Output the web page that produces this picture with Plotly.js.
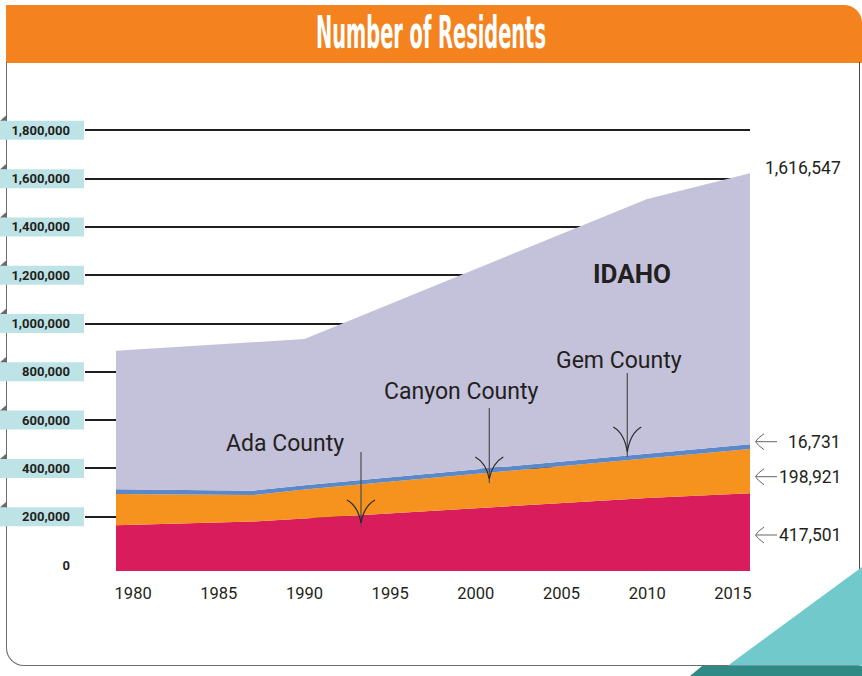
<!DOCTYPE html>
<html>
<head>
<meta charset="utf-8">
<script src="https://cdn.plot.ly/plotly-3.0.1.min.js"></script>
<style>
  html, body { margin: 0; padding: 0; background: #ffffff; }
  #wrap { position: relative; width: 862px; height: 676px; overflow: hidden; }
  #header { position: absolute; left: 6px; top: 5px; width: 856px; height: 58px; background: #f4831f; border-top-right-radius: 18px; }
  #card { position: absolute; left: 6px; top: 62px; width: 854px; height: 604px; box-sizing: border-box;
          border-left: 1.6px solid #6b6b6b; border-right: 1.6px solid #4a4a4a; border-bottom: 1.6px solid #6b6b6b;
          border-bottom-left-radius: 18px; }
  #deco { position: absolute; left: 0; top: 0; }
  #chart { position: absolute; left: 0; top: 0; width: 862px; height: 676px; }
</style>
</head>
<body>
<div id="wrap">
  <div id="header"></div>
  <div id="card"></div>
  <svg id="deco" width="862" height="676">
    <polygon points="690,676 702,666 862,666 862,676" fill="#2f8a86"></polygon>
    <polygon points="728,665.5 862,567 862,665.5" fill="#72c9cc"></polygon>
  </svg>
  <div id="chart"></div>
</div>
<script>
// ---- data ----
const years   = [1979, 1987, 1990, 2010, 2016];
const ada     = [164400, 180100, 192600, 277400, 296900];
const canyon  = [129600, 109700, 120100, 165600, 183400];
const gem     = [19500, 17800, 17900, 16600, 19400];
const idaho   = [887400, 920500, 935900, 1515600, 1622000];

const xTickVals = [1980, 1985, 1990, 1995, 2000, 2005, 2010, 2015];
const xTickText = ['1980', '1985', '1990', '1995', '2000', '2005', '2010', '2015'];
const yTickVals = [0, 200000, 400000, 600000, 800000, 1000000, 1200000, 1400000, 1600000, 1800000];
const yTickText = ['0', '200,000', '400,000', '600,000', '800,000', '1,000,000', '1,200,000', '1,400,000', '1,600,000', '1,800,000'];

const seriesNames = ['Ada County', 'Canyon County', 'Gem County'];
const endLabels   = ['1,616,547', '16,731', '198,921', '417,501'];
const stateLabel  = 'IDAHO';
const titleText   = 'Number of Residents';

// ---- colours ----
const cIdaho = '#c4c1db', cGem = '#5b88c9', cCanyon = '#f6921e', cAda = '#d91c5b';
const ink = '#231f20';

// ---- layout geometry ----
const L = 85, T = 100, W = 665, H = 471;
const px = x => (x - L) / W;
const py = y => 1 - (y - T) / H;
const yMin = -24850, yMax = 1925600;

// cumulative stacks
const adaTop = ada.map(v => v);
const canTop = ada.map((v, i) => v + canyon[i]);
const gemTop = canTop.map((v, i) => v + gem[i]);
const base = years.map(() => yMin);

const common = { x: years, mode: 'lines', line: { width: 0 }, hoverinfo: 'skip', showlegend: false };
const traces = [
  Object.assign({}, common, { y: base }),
  Object.assign({}, common, { y: adaTop, fill: 'tonexty', fillcolor: cAda, name: 'Ada County' }),
  Object.assign({}, common, { y: canTop, fill: 'tonexty', fillcolor: cCanyon, name: 'Canyon County' }),
  Object.assign({}, common, { y: gemTop, fill: 'tonexty', fillcolor: cGem, name: 'Gem County' }),
  Object.assign({}, common, { y: idaho, fill: 'tonexty', fillcolor: cIdaho, name: 'Idaho' })
];

// ---- shapes ----
const shapes = [];
yTickVals.forEach(v => {
  if (v === 0) return;
  shapes.push({ type: 'rect', layer: 'below', xref: 'paper', yref: 'y', ysizemode: 'pixel', yanchor: v,
    x0: px(0), x1: px(84), y0: -9.5, y1: 9.5, fillcolor: '#bde3e6', line: { width: 0 } });
  shapes.push({ type: 'path', layer: 'below', xref: 'paper', yref: 'y', xsizemode: 'pixel', xanchor: px(0),
    ysizemode: 'pixel', yanchor: v, path: 'M 0 9.5 L 7 9.5 L 7 15.5 Z', fillcolor: '#6a6a6a', line: { width: 0 } });
});

// down arrows for county labels
const downArrows = [
  { x: 361, y0: 452, y1: 527, arm: 500, tip: 523 },
  { x: 489.3, y0: 408, y1: 483, arm: 457, tip: 479 },
  { x: 627.3, y0: 373, y1: 457, arm: 427, tip: 452 }
];
downArrows.forEach(a => {
  shapes.push({ type: 'line', xref: 'paper', yref: 'paper', x0: px(a.x), x1: px(a.x), y0: py(a.y0), y1: py(a.y1),
    line: { color: '#4d4d4d', width: 1.2 } });
  const hw = 14;
  const p = `M ${px(a.x - hw)} ${py(a.arm)} Q ${px(a.x - 3)} ${py(a.arm + 6)} ${px(a.x)} ${py(a.tip)} ` +
            `M ${px(a.x + hw)} ${py(a.arm)} Q ${px(a.x + 3)} ${py(a.arm + 6)} ${px(a.x)} ${py(a.tip)}`;
  shapes.push({ type: 'path', xref: 'paper', yref: 'paper', path: p, line: { color: '#2a2a2a', width: 1.2 } });
});

// left-pointing arrows for end labels
const endY = [168.3, 441.7, 476.7, 535];
[1, 2, 3].forEach(i => {
  const y = endY[i];
  shapes.push({ type: 'line', xref: 'paper', yref: 'paper', x0: px(756), x1: px(777), y0: py(y), y1: py(y),
    line: { color: '#666666', width: 1 } });
  const p = `M ${px(764)} ${py(y - 8)} Q ${px(757)} ${py(y - 3)} ${px(755.5)} ${py(y)} ` +
            `M ${px(764)} ${py(y + 8)} Q ${px(757)} ${py(y + 3)} ${px(755.5)} ${py(y)}`;
  shapes.push({ type: 'path', xref: 'paper', yref: 'paper', path: p, line: { color: '#666666', width: 1 } });
});

// ---- annotations ----
const annotations = [];
const labelPos = [[284.5, 443.5], [461.5, 391], [618.5, 360]];
seriesNames.forEach((s, i) => {
  annotations.push({ text: s, xref: 'paper', yref: 'paper', x: px(labelPos[i][0]), y: py(labelPos[i][1]),
    xanchor: 'center', yanchor: 'middle', showarrow: false, font: { family: 'Roboto, sans-serif', size: 23, color: ink } });
});
annotations.push({ text: stateLabel, xref: 'paper', yref: 'paper', x: px(632), y: py(274), xanchor: 'center', yanchor: 'middle',
  showarrow: false, font: { family: 'Roboto, sans-serif', size: 26, color: ink, weight: 'bold' } });
endLabels.forEach((t, i) => {
  annotations.push({ text: t, xref: 'paper', yref: 'paper', x: px(843), y: py(endY[i]), xanchor: 'right', yanchor: 'middle',
    showarrow: false, font: { family: 'Roboto, sans-serif', size: 17.5, color: ink } });
});

const layout = {
  width: 862, height: 676,
  margin: { l: L, r: 862 - L - W, t: T, b: 676 - T - H, pad: 0 },
  paper_bgcolor: 'rgba(0,0,0,0)', plot_bgcolor: 'rgba(0,0,0,0)',
  showlegend: false, hovermode: false,
  title: { text: titleText, x: 0.5, xref: 'container', y: 1 - 33 / 676, yref: 'container', yanchor: 'middle',
    font: { family: 'Liberation Sans Narrow, DejaVu Sans Condensed, Arial Narrow, sans-serif', size: 44, color: '#ffffff', weight: 'bold' } },
  xaxis: { range: [1979 - 31 / 17.135, 2016], tickvals: xTickVals, ticktext: xTickText, showgrid: false, zeroline: false,
    showline: false, ticks: '', ticklabelstandoff: 10, tickfont: { family: 'Roboto, sans-serif', size: 16.5, color: ink }, fixedrange: true },
  yaxis: { range: [yMin, yMax], tickvals: yTickVals, ticktext: yTickText, showgrid: true, gridcolor: '#1f1f1f', gridwidth: 2,
    zeroline: true, zerolinecolor: 'rgba(0,0,0,0)', showline: false, ticks: '', ticklabelstandoff: 14,
    tickfont: { family: 'Roboto, sans-serif', size: 13, color: ink, weight: 'bold' }, fixedrange: true },
  shapes: shapes,
  annotations: annotations
};

Plotly.newPlot('chart', traces, layout, { displayModeBar: false, staticPlot: true }).then(gd => {
  const t = gd.querySelector('.gtitle');
  if (t) {
    const bb = t.getBBox();
    const s = 230 / bb.width;
    const cx = bb.x + bb.width / 2;
    const prev = t.getAttribute('transform') || '';
    t.setAttribute('transform', prev + ` translate(${cx},0) scale(${s},1) translate(${-cx},0)`);
  }
});
</script>
</body>
</html>
